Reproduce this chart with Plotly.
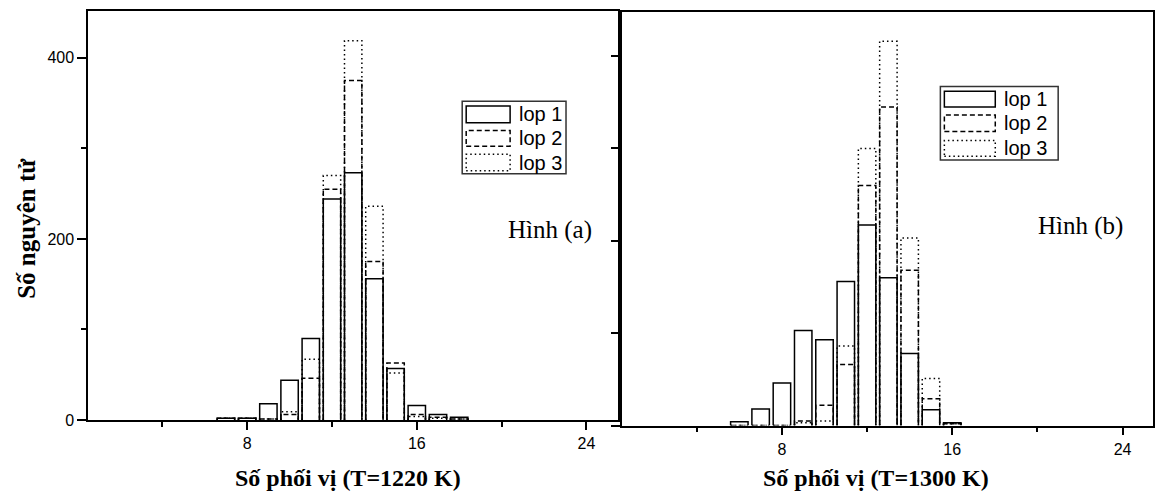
import plotly.graph_objects as go

# ---------------- data ----------------
# Panel (a): T = 1220 K
coord_a = [7, 8, 9, 10, 11, 12, 13, 14, 15, 16, 17, 18]
lop1_a = [2, 2, 18, 44, 90, 244, 273, 156, 57, 16, 6, 3]
lop2_a = [2, 2, 1, 6, 46, 255, 375, 175, 63, 6, 3, 1]
lop3_a = [2, 2, 1, 9, 67, 270, 419, 236, 52, 4, 2, 1]

# Panel (b): T = 1300 K
coord_b = [6, 7, 8, 9, 10, 11, 12, 13, 14, 15, 16]
lop1_b = [4, 18, 46, 103, 93, 156, 217, 160, 78, 17, 3]
lop2_b = [0, 0, 0, 5, 22, 66, 260, 345, 168, 29, 2]
lop3_b = [0, 0, 0, 3, 5, 86, 300, 416, 203, 51, 2]

series_names = ["lop 1", "lop 2", "lop 3"]
x_titles = ["Số phối vị (T=1220 K)", "Số phối vị (T=1300 K)"]
y_title = "Số nguyên tử"
panel_labels = ["Hình (a)", "Hình (b)"]

# ---------------- styling ----------------
W, H = 1155, 501
BAR_W = 0.82
DASHES = ["solid", "5px,3px", "1.5px,3px"]
LW = 1.5
SERIF = "Liberation Serif, Times New Roman, serif"
SANS = "Liberation Sans, Arial, sans-serif"


def outline(cats, vals, w):
    xs, ys = [], []
    for c, v in zip(cats, vals):
        xs += [c - w / 2, c - w / 2, c + w / 2, c + w / 2, None]
        ys += [0, v, v, 0, None]
    return xs, ys


def px(x):
    return x / W


def py(y):
    return 1 - y / H


fig = go.Figure()

panels = [
    (coord_a, [lop1_a, lop2_a, lop3_a], "x", "y"),
    (coord_b, [lop1_b, lop2_b, lop3_b], "x2", "y2"),
]
for cats, series, xa, ya in panels:
    # draw dotted first, solid last
    for idx in [2, 1, 0]:
        xs, ys = outline(cats, series[idx], BAR_W)
        fig.add_trace(go.Scatter(
            x=xs, y=ys, mode="lines", xaxis=xa, yaxis=ya,
            line=dict(color="black", width=LW, dash=DASHES[idx]),
            name=series_names[idx], showlegend=False, hoverinfo="skip",
        ))

axis_common = dict(
    showline=True, linecolor="black", linewidth=1.6, mirror=True,
    showgrid=False, zeroline=False, ticks="outside", tickcolor="black",
    tickwidth=1.5, tickfont=dict(family=SANS, size=16, color="black"),
)

fig.update_layout(
    width=W, height=H,
    margin=dict(l=0, r=0, t=0, b=0),
    paper_bgcolor="white", plot_bgcolor="rgba(0,0,0,0)",
    showlegend=False,
    xaxis=dict(domain=[px(88.3), px(619.3)], range=[0.5, 25.5], anchor="y",
               tick0=0, dtick=8, ticklen=8,
               minor=dict(tick0=0, dtick=4, ticks="outside", ticklen=5,
                          tickwidth=1.5, tickcolor="black", showgrid=False),
               **axis_common),
    yaxis=dict(domain=[py(427.7), py(11)], range=[0, 452], anchor="x",
               tick0=0, dtick=200, ticklen=9,
               minor=dict(tick0=0, dtick=100, ticks="outside", ticklen=5,
                          tickwidth=1.5, tickcolor="black", showgrid=False),
               **axis_common),
    xaxis2=dict(domain=[px(623.3), 1.0], range=[0.5, 0.5 + (W - 623.3) / 21.33],
                anchor="y2", tick0=0, dtick=8, ticklen=8,
                minor=dict(tick0=0, dtick=4, ticks="outside", ticklen=5,
                           tickwidth=1.5, tickcolor="black", showgrid=False),
                **axis_common),
    yaxis2=dict(domain=[py(433.3), py(12)], range=[0, 448], anchor="x2",
                tick0=0, dtick=100, ticklen=9, showticklabels=False,
                **axis_common),
)

annotations = []
shapes = []

# axis titles
annotations.append(dict(text=f"<b>{y_title}</b>", x=px(27), y=py(232),
                        xref="paper", yref="paper", textangle=-90, showarrow=False,
                        font=dict(family=SERIF, size=25, color="black"),
                        xanchor="center", yanchor="middle"))
for title, cx in zip(x_titles, [349, 878]):
    annotations.append(dict(text=f"<b>{title}</b>", x=px(cx), y=py(487),
                            xref="paper", yref="paper", showarrow=False,
                            font=dict(family=SERIF, size=24, color="black"),
                            xanchor="center", yanchor="middle"))

# panel labels
for lab, rx, cy in zip(panel_labels, [595, 1126.5], [234, 230]):
    annotations.append(dict(text=lab, x=px(rx), y=py(cy), xref="paper", yref="paper",
                            showarrow=False, xanchor="right", yanchor="middle",
                            font=dict(family=SERIF, size=25, color="black")))

# legends (drawn manually to get wide outlined sample boxes)
legend_specs = [
    # box x0, x1, y0, y1, sample x0, x1, rows [(y0,y1)], text x
    (463, 567, 103, 177, 467, 511, [(108, 125), (133, 149), (157, 174)], 518),
    (942, 1060, 88, 163, 946, 997, [(93, 109), (117, 134), (143, 159)], 1004),
]
for bx0, bx1, by0, by1, sx0, sx1, rows, tx in legend_specs:
    shapes.append(dict(type="rect", xref="paper", yref="paper",
                       x0=px(bx0), x1=px(bx1), y0=py(by1), y1=py(by0),
                       line=dict(color="#333", width=1.5), fillcolor="white",
                       layer="above"))
    for i, (ry0, ry1) in enumerate(rows):
        shapes.append(dict(type="rect", xref="paper", yref="paper",
                           x0=px(sx0), x1=px(sx1), y0=py(ry1), y1=py(ry0),
                           line=dict(color="black", width=1.5, dash=DASHES[i]),
                           layer="above"))
        annotations.append(dict(text=series_names[i], x=px(tx), y=py((ry0 + ry1) / 2),
                                xref="paper", yref="paper", showarrow=False,
                                xanchor="left", yanchor="middle",
                                font=dict(family=SANS, size=20, color="black")))

fig.update_layout(annotations=annotations, shapes=shapes)

fig.write_html("out.html")
